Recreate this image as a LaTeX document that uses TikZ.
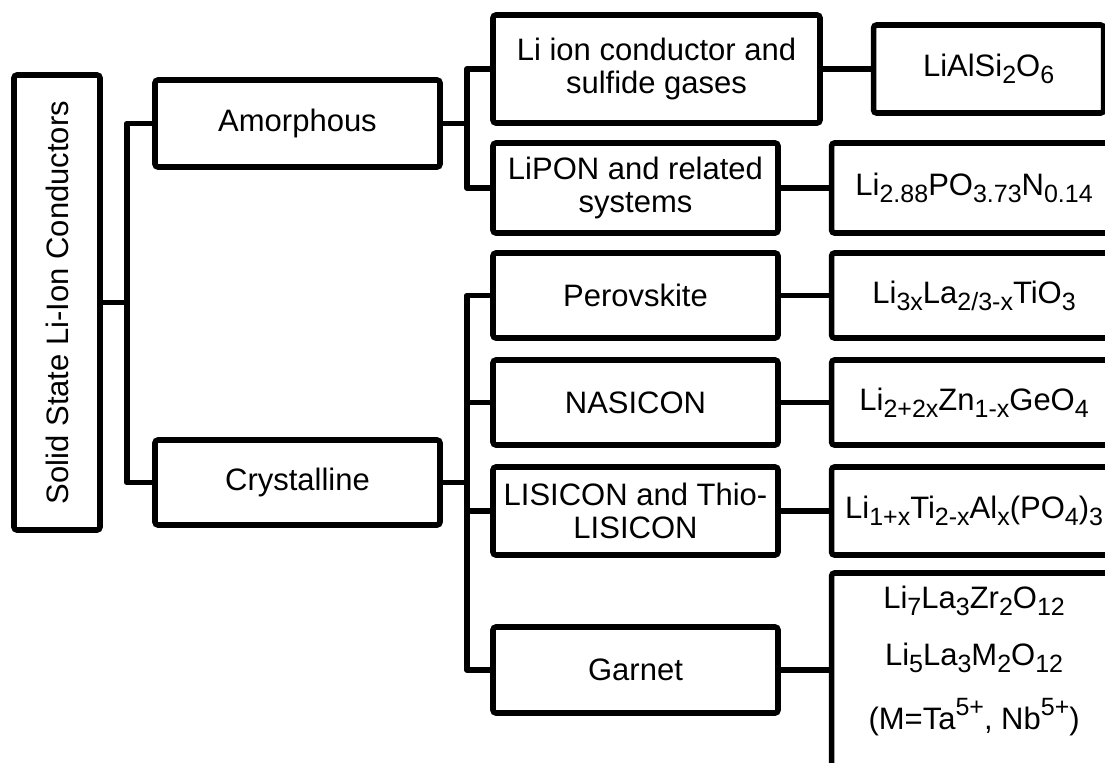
\documentclass[tikz,border=0pt]{standalone}
\usepackage{fontspec}
\setmainfont{Liberation Sans}
\usetikzlibrary{positioning}
\newcommand{\chsub}[1]{\raisebox{-0.42ex}{\fontsize{12.5}{13}\selectfont#1}}
\newcommand{\chsup}[1]{\raisebox{0.85ex}{\fontsize{12.5}{13}\selectfont#1}}
\tikzset{
  catbox/.style={draw,line width=2.8pt,rounded corners=1.5pt,minimum width=142.5pt,
    align=center,inner sep=2pt,font=\fontsize{15.5}{16.5}\selectfont},
  formbox/.style={catbox},
  conn/.style={draw,line width=2.8pt,line join=round}
}
\begin{document}
\begin{tikzpicture}[x=0.5pt,y=-0.5pt,node distance=24pt]
        \useasboundingbox (0,0) rectangle (1105,762);
        % root and the two families
        \node[catbox,minimum width=43pt,minimum height=227.5pt] (root) at (57,302.5) {\rotatebox{90}{Solid State Li-Ion Conductors}};
        \node[catbox,minimum height=43.5pt] (amor) at (297.5,123.5) {Amorphous};
        \node[catbox,minimum height=42.5pt] (cryst) at (297.5,482.5) {Crystalline};
        % sub classes
        \node[catbox,minimum width=163.5pt,minimum height=54pt] (lic) at (656.5,69) {Li ion conductor and\\sulfide gases};
        \node[catbox,minimum height=45pt] (lipon) at (635.5,188) {LiPON and related\\systems};
        \node[catbox,minimum height=42.5pt] (perov) at (635.5,295.5) {Perovskite};
        \node[catbox,minimum height=42.5pt] (nasi) at (635.5,402.5) {NASICON};
        \node[catbox,minimum height=44pt] (lisi) at (635.5,511) {LISICON and Thio-\\LISICON};
        \node[catbox,minimum height=43pt] (garnet) at (635.5,670) {Garnet};
        % formulas
        \node[formbox,minimum width=115pt,minimum height=44pt,right=of lic] (lialsi) {LiAlSi\chsub{2}O\chsub{6}};
        \node[formbox,minimum height=45pt,right=of lipon] (liponf) {Li\chsub{2.88}PO\chsub{3.73}N\chsub{0.14}};
        \node[formbox,minimum height=42.5pt,right=of perov] (perovf) {Li\chsub{3x}La\chsub{2/3-x}TiO\chsub{3}};
        \node[formbox,minimum height=42.5pt,right=of nasi] (nasif) {Li\chsub{2+2x}Zn\chsub{1-x}GeO\chsub{4}};
        \node[formbox,minimum height=44pt,right=of lisi] (lisif) {Li\chsub{1+x}Ti\chsub{2-x}Al\chsub{x}(PO\chsub{4})\chsub{3}};
        \node[formbox,minimum height=108.5pt,right=of garnet,yshift=-5.75pt] (gbox) {};
        \node[align=center,font=\fontsize{15.5}{16.5}\selectfont] (gform) at (gbox.center |- 0,661)
          {Li\chsub{7}La\chsub{3}Zr\chsub{2}O\chsub{12}\\[12pt]
           Li\chsub{5}La\chsub{3}M\chsub{2}O\chsub{12}\\[12pt]
           (M=Ta\chsup{5+}, Nb\chsup{5+})};
        % connectors
        \draw[conn] (root.east) -- ++(24,0) coordinate (rj);
        \draw[conn] (amor.west) -| (rj) |- (cryst.west);
        \draw[conn] (amor.east) -- ++(24,0) coordinate (aj);
        \draw[conn] (lic.west) -| (aj) |- (lipon.west);
        \draw[conn] (cryst.east) -- ++(24,0) coordinate (cj);
        \draw[conn] (perov.west) -| (cj) |- (garnet.west);
        \draw[conn] (cj |- nasi.west) -- (nasi.west);
        \draw[conn] (cj |- lisi.west) -- (lisi.west);
        \draw[conn] (lic) -- (lialsi);
        \draw[conn] (lipon) -- (liponf);
        \draw[conn] (perov) -- (perovf);
        \draw[conn] (nasi) -- (nasif);
        \draw[conn] (lisi) -- (lisif);
        \draw[conn] (garnet) -- (garnet -| gbox.west);
      \end{tikzpicture}
\end{document}
